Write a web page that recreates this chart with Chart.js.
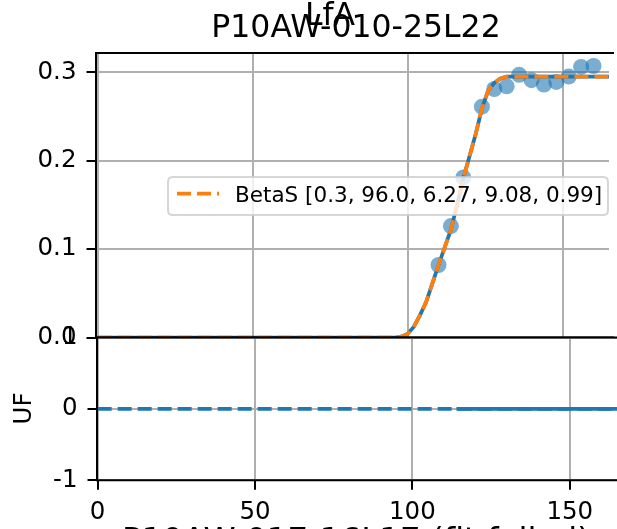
<!DOCTYPE html>
<html><head><meta charset="utf-8">
<script src="https://cdn.jsdelivr.net/npm/chart.js@4/dist/chart.umd.min.js"></script>
<style>
html,body{margin:0;padding:0;background:#fff;}
#wrap{position:relative;width:617px;height:529px;overflow:hidden;background:#fff;}
canvas{position:absolute;left:0;top:0;}
</style></head><body>
<div id="wrap"><canvas id="topc" width="617" height="529"></canvas><canvas id="botc" width="617" height="529"></canvas></div>
<script>
// ---- data ----
const superTitle = "LfA";
const titleTop = "P10AW-010-25L22";
const titleNext = "P10AW-017-16L17 (fit failed)";
const yLabelBottom = "UF";
const legendLabel = "BetaS [0.3, 96.0, 6.27, 9.08, 0.99]";

const obsDays = [110, 114, 118, 124, 128, 132, 136, 140, 144, 148, 152, 156, 160];
const obsLfA  = [0.082, 0.126, 0.181, 0.261, 0.281, 0.284, 0.297, 0.291, 0.286, 0.289, 0.295, 0.306, 0.307];

const fitDays = [0, 96, 98, 100, 102, 104, 106, 108, 110, 112, 114, 116, 118, 120, 122, 124, 126, 128, 130, 132, 165];
const fitLfA  = [0, 0, 0.001, 0.004, 0.012, 0.025, 0.040, 0.061, 0.082, 0.102, 0.122, 0.150, 0.180, 0.205, 0.230, 0.259, 0.279, 0.288, 0.293, 0.295, 0.295];

const ufDays   = [0, 165];
const ufValues = [0, 0];
const ufDaysB   = [114, 165];
const ufValuesB = [0, 0];

const xTicks = [0, 50, 100, 150];
const yTicksTop = [0, 0.1, 0.2, 0.3];
const yTicksBottom = [-1, 0, 1];

// ---- styling ----
const FONT = "'DejaVu Sans'";
Chart.defaults.font.family = FONT;
Chart.defaults.color = '#000';
const GRID = '#b0b0b0';
const BLUE = '#1f77b4', ORANGE = '#ff7f0e';
const TICKFONT = {size: 24.5, family: FONT};

function xy(xs, ys) { return xs.map((x, i) => ({x: x, y: ys[i]})); }

const spines = {
  id: 'spines',
  afterDatasetsDraw(chart) {
    const ctx = chart.ctx, a = chart.chartArea;
    ctx.save();
    ctx.strokeStyle = '#000'; ctx.lineWidth = 2;
    ctx.beginPath();
    ctx.moveTo(a.right + 5, a.top); ctx.lineTo(a.left, a.top);
    ctx.lineTo(a.left, a.bottom); ctx.lineTo(a.right + 5, a.bottom);
    ctx.stroke();
    ctx.restore();
  }
};

const topDecor = {
  id: 'topDecor',
  afterDraw(chart) {
    const ctx = chart.ctx;
    ctx.save();
    // legend
    const lx = 168, ly = 177, lw = 440, lh = 38, r = 5;
    ctx.beginPath();
    ctx.moveTo(lx + r, ly); ctx.lineTo(lx + lw - r, ly); ctx.quadraticCurveTo(lx + lw, ly, lx + lw, ly + r);
    ctx.lineTo(lx + lw, ly + lh - r); ctx.quadraticCurveTo(lx + lw, ly + lh, lx + lw - r, ly + lh);
    ctx.lineTo(lx + r, ly + lh); ctx.quadraticCurveTo(lx, ly + lh, lx, ly + lh - r);
    ctx.lineTo(lx, ly + r); ctx.quadraticCurveTo(lx, ly, lx + r, ly);
    ctx.closePath();
    ctx.fillStyle = 'rgba(255,255,255,0.8)'; ctx.fill();
    ctx.strokeStyle = 'rgba(204,204,204,0.8)'; ctx.lineWidth = 2; ctx.stroke();
    ctx.beginPath();
    ctx.setLineDash([14, 6]);
    ctx.strokeStyle = ORANGE; ctx.lineWidth = 3.75;
    ctx.moveTo(177, 193.5); ctx.lineTo(219, 193.5); ctx.stroke();
    ctx.setLineDash([]);
    ctx.fillStyle = '#000';
    ctx.font = "21.5px " + FONT;
    ctx.textAlign = 'left'; ctx.textBaseline = 'alphabetic';
    ctx.fillText(legendLabel, 235, 202);
    // titles
    ctx.font = "31.5px " + FONT;
    ctx.textAlign = 'center';
    ctx.fillText(titleTop, 356, 36.5);
    ctx.fillText(superTitle, 330, 25);
    ctx.restore();
  }
};

const botDecor = {
  id: 'botDecor',
  afterDraw(chart) {
    const ctx = chart.ctx;
    ctx.save();
    ctx.fillStyle = '#000';
    ctx.font = "32.5px " + FONT;
    ctx.textAlign = 'center'; ctx.textBaseline = 'alphabetic';
    ctx.fillText(titleNext, 356, 550);
    ctx.translate(25, 408.5);
    ctx.rotate(-Math.PI / 2);
    ctx.font = "24.5px " + FONT;
    ctx.textBaseline = 'middle';
    ctx.fillText(yLabelBottom, 0, 0);
    ctx.restore();
  }
};

const common = {
  responsive: false, animation: false, events: [],
  plugins: {legend: {display: false}, tooltip: {enabled: false}, title: {display: false}}
};

new Chart(document.getElementById('topc'), {
  type: 'scatter',
  data: {
    datasets: [
      {data: xy(fitDays, fitLfA), showLine: true, borderColor: ORANGE, borderWidth: 3.75, borderDash: [14, 6],
       pointRadius: 0, tension: 0, order: 0},
      {data: xy(fitDays, fitLfA), showLine: true, borderColor: BLUE, borderWidth: 3.75,
       pointRadius: 0, tension: 0, order: 1},
      {data: xy(obsDays, obsLfA), showLine: false, pointRadius: 8, pointBorderWidth: 0,
       backgroundColor: 'rgba(31,119,180,0.6)', borderColor: 'rgba(0,0,0,0)', order: 2}
    ]
  },
  options: Object.assign({}, common, {
    layout: {padding: {top: 53, bottom: 191.5, left: 0, right: 0}},
    scales: {
      x: {type: 'linear', min: -0.5, max: 165,
          afterBuildTicks: s => { s.ticks = xTicks.map(v => ({value: v})); },
          afterFit: s => { s.height = 0; },
          ticks: {display: false},
          grid: {color: GRID, lineWidth: 2, drawTicks: false},
          border: {display: false}},
      y: {type: 'linear', min: 0, max: 0.3217,
          afterBuildTicks: s => { s.ticks = yTicksTop.map(v => ({value: v})); },
          afterFit: s => { s.width = 96; },
          ticks: {font: TICKFONT, padding: 10, color: '#000', callback: v => v.toFixed(1)},
          grid: {color: GRID, lineWidth: 2, tickLength: 9.5, tickColor: '#000', tickWidth: 2},
          border: {display: false}}
    }
  }),
  plugins: [spines, topDecor]
});

new Chart(document.getElementById('botc'), {
  type: 'scatter',
  data: {
    datasets: [
      {data: xy(ufDaysB, ufValuesB), showLine: true, borderColor: BLUE, borderWidth: 3.75,
       pointRadius: 0, order: 0},
      {data: xy(ufDays, ufValues), showLine: true, borderColor: BLUE, borderWidth: 3.75, borderDash: [14, 6],
       pointRadius: 0, order: 1}
    ]
  },
  options: Object.assign({}, common, {
    layout: {padding: {top: 337.5, bottom: 0, left: 0, right: 0}},
    scales: {
      x: {type: 'linear', min: -0.2, max: 165,
          afterBuildTicks: s => { s.ticks = xTicks.map(v => ({value: v})); },
          afterFit: s => { s.height = 48.7; },
          ticks: {font: TICKFONT, padding: 8, color: '#000', maxRotation: 0, callback: v => String(v)},
          grid: {color: GRID, lineWidth: 2, tickLength: 9.5, tickColor: '#000', tickWidth: 2},
          border: {display: false}},
      y: {type: 'linear', min: -1, max: 1,
          afterBuildTicks: s => { s.ticks = yTicksBottom.map(v => ({value: v})); },
          afterFit: s => { s.width = 97; },
          ticks: {font: TICKFONT, padding: 10, color: '#000', callback: v => String(v)},
          grid: {color: GRID, lineWidth: 2, tickLength: 9.5, tickColor: '#000', tickWidth: 2},
          border: {display: false}}
    }
  }),
  plugins: [spines, botDecor]
});
</script>
</body></html>
